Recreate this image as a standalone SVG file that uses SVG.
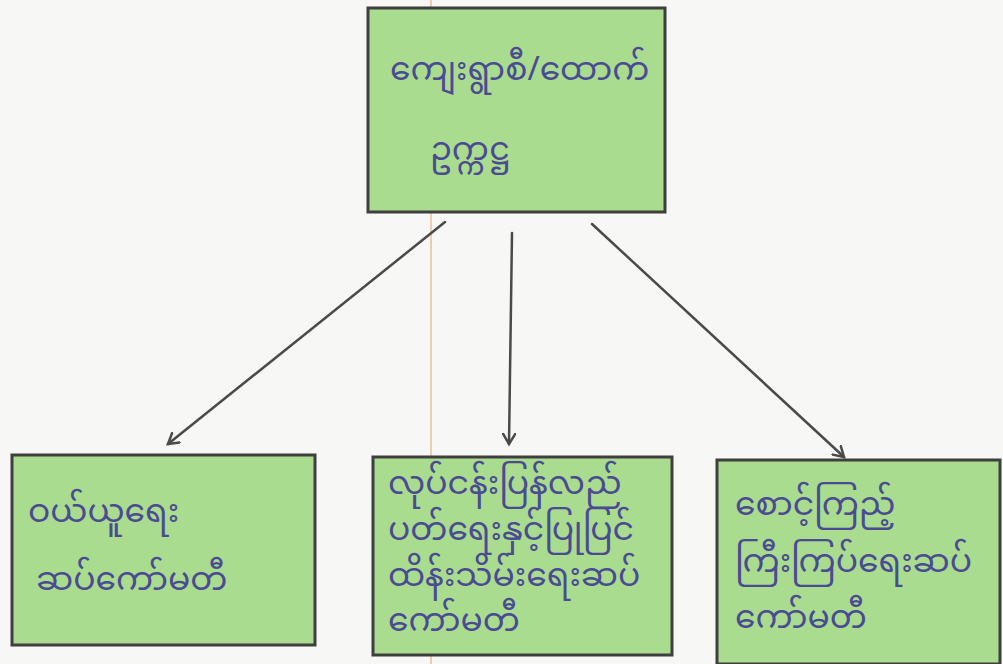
<svg xmlns="http://www.w3.org/2000/svg" width="1003" height="664" viewBox="0 0 1003 664">
<defs>
<style>
.box{fill:#a9dc8e;stroke:#3f3f3f;stroke-width:3}
.t{font-family:"Noto Sans Myanmar","Padauk","Myanmar Text","Noto Sans","DejaVu Sans",sans-serif;font-size:33px;fill:#4b4b93}
.c{stroke:#4a4a4a;stroke-width:2.5;fill:none;stroke-linecap:round}
</style>
<marker id="ah" markerWidth="14" markerHeight="14" refX="11" refY="7" orient="auto" markerUnits="userSpaceOnUse">
<path d="M1,1 L11,7 L1,13" fill="none" stroke="#4a4a4a" stroke-width="2.5" stroke-linecap="round"/>
</marker>
</defs>
<rect x="0" y="0" width="1003" height="664" fill="#f7f7f6"/>
<line x1="431" y1="0" x2="431" y2="664" stroke="#e8a070" stroke-width="1"/>
<g id="n-top">
<rect class="box" x="368" y="8" width="297" height="204"/>
<text class="t" x="390" y="80" font-size="34">ကျေးရွာစီ/ထောက်</text>
<text class="t" x="430" y="160" font-size="40">ဥက္ကဋ္ဌ</text>
</g>
<g id="n-left">
<rect class="box" x="12" y="455" width="303" height="190"/>
<text class="t" x="28" y="522" font-size="38">ဝယ်ယူရေး</text>
<text class="t" x="36" y="590" font-size="38">ဆပ်ကော်မတီ</text>
</g>
<g id="n-mid">
<rect class="box" x="373" y="457" width="299" height="198"/>
<text class="t" x="388" y="494" font-size="31">လုပ်ငန်းပြန်လည်</text>
<text class="t" x="388" y="540" font-size="31">ပတ်ရေးနှင့်ပြုပြင်</text>
<text class="t" x="388" y="586" font-size="31">ထိန်းသိမ်းရေးဆပ်</text>
<text class="t" x="388" y="631" font-size="31">ကော်မတီ</text>
</g>
<g id="n-right">
<rect class="box" x="717" y="460" width="283" height="204"/>
<text class="t" x="735" y="515">စောင့်ကြည့်</text>
<text class="t" x="735" y="572">ကြီးကြပ်ရေးဆပ်</text>
<text class="t" x="735" y="628">ကော်မတီ</text>
</g>
<g id="connectors">
<line class="c" x1="445" y1="222" x2="168" y2="444" marker-end="url(#ah)"/>
<line class="c" x1="512" y1="233" x2="509" y2="444" marker-end="url(#ah)"/>
<line class="c" x1="592" y1="224" x2="844" y2="457" marker-end="url(#ah)"/>
</g>
</svg>
